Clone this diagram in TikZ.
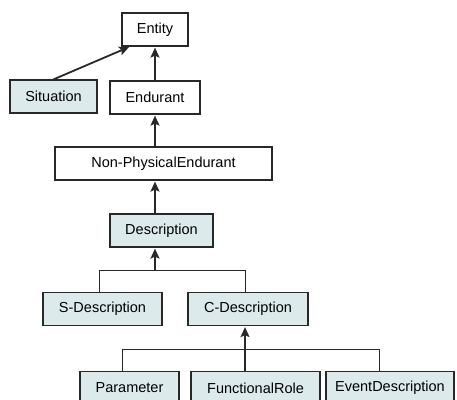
\documentclass[tikz,border=0pt]{standalone}
\usepackage{fontspec}
\setmainfont{Liberation Sans}
\usetikzlibrary{arrows.meta}
\definecolor{descfill}{RGB}{220,234,236}
\definecolor{edge}{RGB}{40,40,40}

\begin{document}
\begin{tikzpicture}[x=1pt,y=-1pt,
  box/.style={draw=edge,line width=1.2pt,fill=white,inner sep=0pt,minimum height=33pt,font=\fontsize{14.5}{16}\selectfont},
  descbox/.style={box,fill=descfill},
  arr/.style={draw=edge,line width=1.8pt,-{Stealth[length=10pt,width=9pt,inset=2pt]},shorten >=1pt},
  branch/.style={draw=edge,line width=1pt}]
\useasboundingbox (0,0) rectangle (457,399);
% Upper boxes
\node[box,minimum width=66pt] (entity) at (155,29.5) {Entity};
\node[descbox,minimum width=87pt] (situation) at (53.5,96.5) {Situation};
\node[box,minimum width=90pt] (endurant) at (155,97.5) {Endurant};
\node[box,minimum width=217pt] (nonphys) at (163.5,163.5) {Non-PhysicalEndurant};
\node[descbox,minimum width=103pt] (description) at (161.5,230.5) {Description};
% Descriptions
\node[descbox,minimum width=119pt] (sdesc) at (102.5,309) {S-Description};
\node[descbox,minimum width=120pt] (cdesc) at (248,309) {C-Description};
% Bottom row
\node[descbox,minimum width=99pt] (param) at (129.5,388) {Parameter};
\node[descbox,minimum width=129pt] (role) at (255.5,388) {FunctionalRole};
\node[descbox,minimum width=128pt] (evdesc) at (390,388) {EventDescription};
% Branch points
\coordinate (split1) at (155,270);
\coordinate (sbranch) at (99,270);
\coordinate (cbranch) at (245,270);
\coordinate (split2) at (245,349);
\coordinate (pbranch) at (122,349);
\coordinate (ebranch) at (379,349);
% Arrows up the chain
\draw[arr] (situation.north) -- ([xshift=-25pt]entity.south);
\draw[arr] (endurant.north) -- (entity.south);
\draw[arr] (nonphys.north -| endurant.south) -- (endurant.south);
\draw[arr] (description.north -| entity.south) -- (nonphys.south -| entity.south);
% First tree
\draw[branch] (sdesc.north -| sbranch) -- (sbranch) -- (cbranch) -- (cdesc.north -| cbranch);
\draw[arr] (split1) -- (description.south -| split1);
% Second tree
\draw[branch] (param.north -| pbranch) -- (pbranch) -- (ebranch) -- (evdesc.north -| ebranch);
\draw[arr] (role.north -| split2) -- (cdesc.south -| split2);
\end{tikzpicture}
\end{document}
